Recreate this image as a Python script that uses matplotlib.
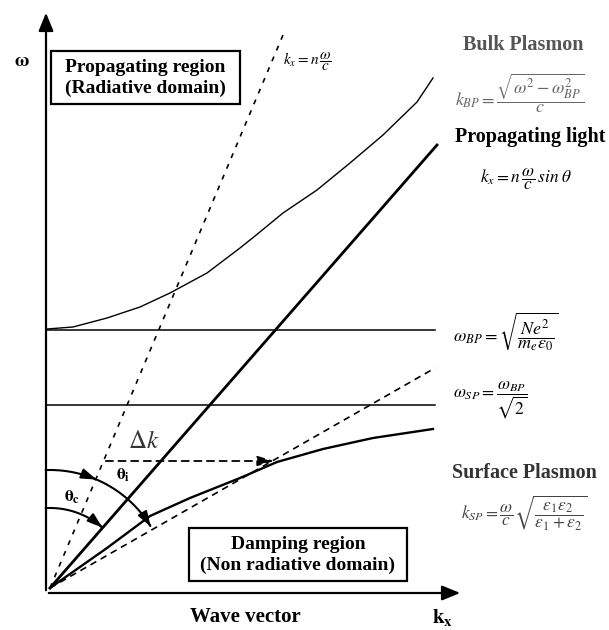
import numpy as np
import matplotlib
matplotlib.use('Agg')
import matplotlib.pyplot as plt
from matplotlib.patches import Rectangle

plt.rcParams['font.family'] = ['Liberation Serif', 'DejaVu Serif']
plt.rcParams['mathtext.fontset'] = 'stix'

# data units: wave vector k (x) and frequency w (y), origin at the corner
omega_bp = 258
omega_sp = 183
k_end = 385

# light lines (start, end)
light_steep_k = [0, 233]
light_steep_w = [0, 553]
light_prop_k = [0, 387]
light_prop_w = [0, 443]
light_air_k = [0, 385]
light_air_w = [0, 220]

# bulk plasmon dispersion
bulk_k = [-3, 23, 57, 90, 120, 157, 190, 205, 233, 267, 300, 333, 367, 383]
bulk_w = [259, 261, 270, 281, 295, 315, 340, 352, 375, 398, 425, 453, 486, 510]

# surface plasmon dispersion
sp_k = [0, 57, 100, 140, 190, 227, 273, 323, 383]
sp_w = [0, 40, 72, 90, 110, 126, 139, 150, 159]

# delta k arrow
dk_w = 127
dk_k = [53, 227]

# angle arcs (radius, start deg, end deg)
theta_c_arc = (80, 93, 49)
theta_i_arc = (118, 92, 30)

fig = plt.figure(figsize=(6.09, 6.3), dpi=100)
ax = fig.add_axes([0, 0, 1, 1])
ax.set_xlim(-50, 559)
ax.set_ylim(-42, 588)
ax.axis('off')

# axes with arrows
ax.annotate('', xy=(-4, 578), xytext=(-4, -5),
            arrowprops=dict(arrowstyle='-|>,head_length=1.1,head_width=0.45', lw=1.6, color='black'))
ax.annotate('', xy=(413, -5), xytext=(-4, -5),
            arrowprops=dict(arrowstyle='-|>,head_length=1.1,head_width=0.45', lw=1.6, color='black'))

# horizontal plasmon frequencies
ax.plot([-4, k_end], [omega_bp, omega_bp], color='black', lw=1.1)
ax.plot([-4, k_end], [omega_sp, omega_sp], color='black', lw=1.1)

# light lines
ax.plot(light_steep_k, light_steep_w, color='black', lw=1.2, ls=(0, (3, 4)))
ax.plot(light_prop_k, light_prop_w, color='black', lw=2.0)
ax.plot(light_air_k, light_air_w, color='black', lw=1.2, ls=(0, (4, 3)))

# dispersion curves
ax.plot(bulk_k, bulk_w, color='black', lw=1.0, solid_joinstyle='round')
ax.plot(sp_k, sp_w, color='black', lw=1.7, solid_joinstyle='round')

# delta k
ax.annotate('', xy=(dk_k[1], dk_w), xytext=(dk_k[0], dk_w),
            arrowprops=dict(arrowstyle='-|>,head_length=1.0,head_width=0.3', lw=1.3,
                            ls=(0, (4, 3)), color='black'))


def arc(r, a0, a1, mid_arrow=False):
    t = np.radians(np.linspace(a0, a1, 60))
    x = r * np.cos(t)
    y = r * np.sin(t)
    ax.plot(x[:-2], y[:-2], color='black', lw=1.5)
    ax.annotate('', xy=(x[-1], y[-1]), xytext=(x[-4], y[-4]),
                arrowprops=dict(arrowstyle='-|>,head_length=0.9,head_width=0.3', lw=1.5, color='black'))
    if mid_arrow:
        i = 22
        ax.annotate('', xy=(x[i + 2], y[i + 2]), xytext=(x[i], y[i]),
                    arrowprops=dict(arrowstyle='-|>,head_length=0.9,head_width=0.3', lw=1.5, color='black'))


arc(*theta_c_arc)
arc(*theta_i_arc, mid_arrow=True)

# labels on the graph
ax.text(-28, 526, r'$\mathbf{\omega}$', fontsize=14, ha='center', va='center')
ax.text(22, 91, r'$\mathbf{\theta_c}$', fontsize=12.5, ha='center', va='center')
ax.text(73, 113, r'$\mathbf{\theta_i}$', fontsize=12.5, ha='center', va='center')
ax.text(94, 146, r'$\Delta k$', fontsize=18, ha='center', va='center', color='#333333')
ax.text(233, 526, r'$k_x = n\,\dfrac{\omega}{c}$', fontsize=11, ha='left', va='center')

# region boxes
ax.add_patch(Rectangle((1, 484), 189, 53, fc='white', ec='black', lw=1.6))
ax.add_patch(Rectangle((139, 7), 218, 53, fc='white', ec='black', lw=1.6))
ax.text(95, 510, 'Propagating region\n(Radiative domain)', fontsize=14, fontweight='bold',
        ha='center', va='center', linespacing=1.3)
ax.text(248, 33, 'Damping region\n(Non radiative domain)', fontsize=14, fontweight='bold',
        ha='center', va='center', linespacing=1.3)

ax.text(195, -29, 'Wave vector', fontsize=15, fontweight='bold', ha='center', va='center')
ax.text(393, -29, r'$\mathbf{k_x}$', fontsize=15, ha='center', va='center')

# right side annotations
ax.text(473, 543, 'Bulk Plasmon', fontsize=14.5, fontweight='bold', ha='center', va='center',
        color='#555555')
ax.text(470, 495, r'$k_{BP} = \dfrac{\sqrt{\omega^2 - \omega_{BP}^2}}{c}$', fontsize=13,
        ha='center', va='center', color='#666666')
ax.text(480, 451, 'Propagating light', fontsize=14.5, fontweight='bold', ha='center', va='center')
ax.text(476, 409, r'$k_x = n\,\dfrac{\omega}{c}\,sin\;\theta$', fontsize=12.5,
        ha='center', va='center')
ax.text(403, 256, r'$\omega_{BP} = \sqrt{\dfrac{Ne^2}{m_e\varepsilon_0}}$', fontsize=13,
        ha='left', va='center')
ax.text(403, 188, r'$\omega_{SP} = \dfrac{\omega_{BP}}{\sqrt{2}}$', fontsize=12.5,
        ha='left', va='center')
ax.text(474, 115, 'Surface Plasmon', fontsize=14.5, fontweight='bold', ha='center', va='center',
        color='#333333')
ax.text(474, 75, r'$k_{SP} = \dfrac{\omega}{c}\sqrt{\dfrac{\varepsilon_1\varepsilon_2}{\varepsilon_1+\varepsilon_2}}$',
        fontsize=12.5, ha='center', va='center', color='#444444')

fig.savefig('out.png', dpi=100)
